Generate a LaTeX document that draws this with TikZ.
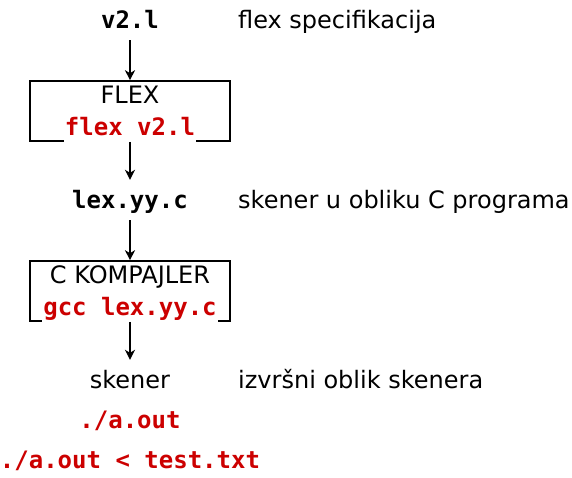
\documentclass[tikz,border=0pt]{standalone}
\usepackage{fontspec}
\setmainfont{DejaVu Sans}
\setmonofont{DejaVu Sans Mono}
\usetikzlibrary{arrows.meta}
\definecolor{crvena}{RGB}{204,0,0}

\begin{document}
\begin{tikzpicture}[x=1pt,y=-1pt,
    font=\fontsize{24}{28}\selectfont,
    tekst/.style={inner sep=0pt,text height=20pt,text depth=3pt,minimum height=40pt},
    opis/.style={tekst,anchor=west},
    kod/.style={text=crvena,font=\fontsize{24}{28}\selectfont\ttfamily\bfseries,
      fill=white,inner xsep=1pt,inner ysep=3pt,text height=20pt,text depth=3pt},
    faza/.style={draw,line width=1.6pt,minimum width=200pt,minimum height=60pt,inner sep=0pt},
    strelica/.style={line width=1.6pt,-{Stealth[length=10pt,width=10pt,inset=3pt]}}]
      \useasboundingbox (0,0) rectangle (572,477);
      \node[tekst,font=\fontsize{24}{28}\selectfont\ttfamily\bfseries] (ulaz) at (130,20) {v2.l};
      \node[opis] (ulazopis) at (238,20) {flex specifikacija};
      \node[faza] (flex) at (130,111) {};
      \node[tekst] (flexime) at (130,95) {FLEX};
      \node[kod] (flexkod) at (130,127) {flex v2.l};
      \node[tekst,font=\fontsize{24}{28}\selectfont\ttfamily\bfseries] (lexyy) at (130,200) {lex.yy.c};
      \node[opis] (lexyyopis) at (238,200) {skener u obliku C programa};
      \node[faza] (gcc) at (130,291) {};
      \node[tekst] (gccime) at (130,275) {C KOMPAJLER};
      \node[kod] (gcckod) at (130,307) {gcc lex.yy.c};
      \node[tekst] (skener) at (130,380) {skener};
      \node[opis] (skeneropis) at (238,380) {izvršni oblik skenera};
      \node[kod] (pokreni) at (130,420) {./a.out};
      \node[kod] (pokrenitest) at (130,460) {./a.out < test.txt};
      \draw[strelica] (ulaz) -- (flex);
      \draw[strelica] (flex) -- (lexyy);
      \draw[strelica] (lexyy) -- (gcc);
      \draw[strelica] (gcc) -- (skener);
    \end{tikzpicture}
\end{document}
